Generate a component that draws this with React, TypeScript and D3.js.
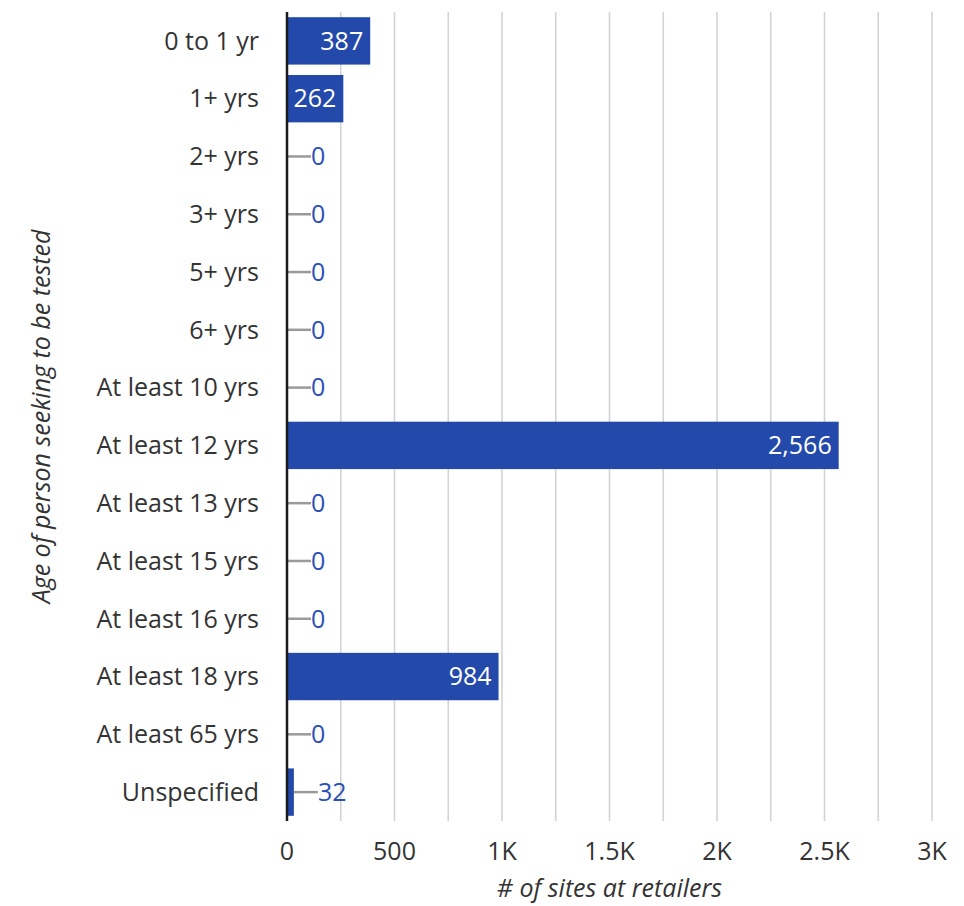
import { useEffect, useRef } from 'react';
import * as d3 from 'd3';

const categories = [
  '0 to 1 yr', '1+ yrs', '2+ yrs', '3+ yrs', '5+ yrs', '6+ yrs',
  'At least 10 yrs', 'At least 12 yrs', 'At least 13 yrs', 'At least 15 yrs',
  'At least 16 yrs', 'At least 18 yrs', 'At least 65 yrs', 'Unspecified',
];
const siteCounts = [387, 262, 0, 0, 0, 0, 0, 2566, 0, 0, 0, 984, 0, 32];
const xTicks = [0, 500, 1000, 1500, 2000, 2500, 3000];
const xTickLabels = ['0', '500', '1K', '1.5K', '2K', '2.5K', '3K'];
const gridValues = d3.range(250, 3001, 250);

const xTitle = '# of sites at retailers';
const yTitle = 'Age of person seeking to be tested';

const W = 964;
const H = 906;
const FONT = '"Open Sans", "Noto Sans", sans-serif';
const BAR = '#2349ab';
const TEXT = '#333333';

export default function App() {
  const svgRef = useRef<SVGSVGElement>(null);

  useEffect(() => {
    if (!svgRef.current) return;
    const svg = d3.select(svgRef.current);
    svg.selectAll('*').remove();

    const left = 287, right = 932, top = 12, bottom = 821;

    const x = d3.scaleLinear().domain([0, 3000]).range([left, right]);
    const y = d3.scaleBand().domain(categories).range([top, bottom]).paddingInner(0.18).paddingOuter(0.09);

    // gridlines
    svg.append('g')
      .selectAll('line')
      .data(gridValues)
      .enter()
      .append('line')
      .attr('x1', d => x(d)).attr('x2', d => x(d))
      .attr('y1', top).attr('y2', bottom)
      .attr('stroke', '#d3d3d3')
      .attr('stroke-width', 1.6);

    const rows = categories.map((c, i) => ({ c, v: siteCounts[i] }));

    // bars
    svg.append('g')
      .selectAll('rect')
      .data(rows.filter(d => d.v > 0))
      .enter()
      .append('rect')
      .attr('x', x(0))
      .attr('y', d => y(d.c)!)
      .attr('width', d => x(d.v) - x(0))
      .attr('height', y.bandwidth())
      .attr('fill', BAR);

    // labels: inside for wide bars, outside with a leader line otherwise
    const inside = (v: number) => x(v) - x(0) > 45;

    svg.append('g')
      .selectAll('line')
      .data(rows.filter(d => !inside(d.v)))
      .enter()
      .append('line')
      .attr('x1', d => x(d.v))
      .attr('x2', d => x(d.v) + 24)
      .attr('y1', d => y(d.c)! + y.bandwidth() / 2)
      .attr('y2', d => y(d.c)! + y.bandwidth() / 2)
      .attr('stroke', '#9a9a9a')
      .attr('stroke-width', 2.5);

    svg.append('g')
      .selectAll('text')
      .data(rows)
      .enter()
      .append('text')
      .attr('x', d => inside(d.v) ? x(d.v) - 7 : x(d.v) + 24)
      .attr('y', d => y(d.c)! + y.bandwidth() / 2)
      .attr('dy', '0.35em')
      .attr('text-anchor', d => inside(d.v) ? 'end' : 'start')
      .attr('fill', d => inside(d.v) ? '#ffffff' : '#2a4fb8')
      .style('font-family', FONT)
      .style('font-size', '25px')
      .text(d => d3.format(',')(d.v));

    // zero axis line
    svg.append('line')
      .attr('x1', x(0)).attr('x2', x(0))
      .attr('y1', top).attr('y2', bottom)
      .attr('stroke', '#1a1a1a')
      .attr('stroke-width', 2.5);

    // category labels
    svg.append('g')
      .selectAll('text')
      .data(categories)
      .enter()
      .append('text')
      .attr('x', left - 28)
      .attr('y', d => y(d)! + y.bandwidth() / 2)
      .attr('dy', '0.35em')
      .attr('text-anchor', 'end')
      .attr('fill', TEXT)
      .style('font-family', FONT)
      .style('font-size', '25px')
      .text(d => d);

    // x tick labels
    svg.append('g')
      .selectAll('text')
      .data(xTicks)
      .enter()
      .append('text')
      .attr('x', d => x(d))
      .attr('y', 860)
      .attr('text-anchor', 'middle')
      .attr('fill', TEXT)
      .style('font-family', FONT)
      .style('font-size', '25px')
      .text((d, i) => xTickLabels[i]);

    // axis titles
    svg.append('text')
      .attr('x', (left + right) / 2)
      .attr('y', 897)
      .attr('text-anchor', 'middle')
      .attr('fill', TEXT)
      .style('font-family', FONT)
      .style('font-size', '25px')
      .style('font-style', 'italic')
      .text(xTitle);

    svg.append('text')
      .attr('transform', `translate(50,${(top + bottom) / 2}) rotate(-90)`)
      .attr('text-anchor', 'middle')
      .attr('fill', TEXT)
      .style('font-family', FONT)
      .style('font-size', '25px')
      .style('font-style', 'italic')
      .text(yTitle);
  }, []);

  return (
    <div style={{ position: 'absolute', left: 0, top: 0, background: '#fff' }}>
      <svg ref={svgRef} width={W} height={H}></svg>
    </div>
  );
}
